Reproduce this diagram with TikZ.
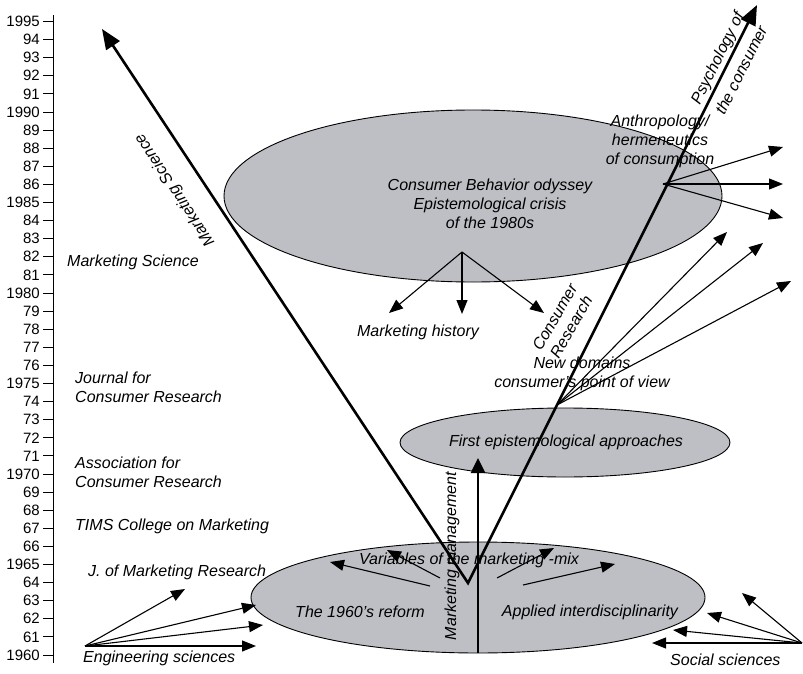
\documentclass[tikz,border=0pt]{standalone}
\usepackage{fontspec}
\setmainfont{Liberation Sans}
\usetikzlibrary{shapes.geometric, arrows.meta, positioning}
\definecolor{eragray}{RGB}{190,191,196}

\begin{document}
\begin{tikzpicture}[
    x=1pt, y=-1pt,
    font=\fontsize{16}{19}\selectfont\itshape,
    era/.style={
        ellipse, draw=black, line width=0.9pt,
        fill=eragray, inner sep=0pt
    },
    lbl/.style={align=left, anchor=west, inner sep=0pt},
    mid/.style={align=center, inner sep=0pt},
    yr/.style={font=\fontsize{15}{18}\selectfont, anchor=east, inner sep=0pt},
    flow/.style={line width=2.6pt, line join=miter},
    spread/.style={line width=1.1pt, -{Triangle[length=14pt,width=11pt]}}
]
\useasboundingbox (0,0) rectangle (803,674);

\draw[line width=1pt] (53,15) -- (53,663);
\foreach \i in {0,...,35} {
    \pgfmathtruncatemacro\yrfull{1960+\i}
    \pgfmathtruncatemacro\yrshort{mod(60+\i,100)}
    \pgfmathtruncatemacro\isfull{mod(\i,5)==0}
    \ifnum\isfull=1 \def\yrtxt{\yrfull}\else\def\yrtxt{\yrshort}\fi
    \node (y\yrfull) [yr] at (40, 655-18.1*\i) {\yrtxt};
    \draw[line width=0.9pt] (43, 655-18.1*\i) -- (53, 655-18.1*\i);
}

\node (odyssey) [era, minimum width=498pt, minimum height=172pt] at (473,196) {};
\node (firstep) [era, minimum width=330pt, minimum height=69pt] at (565,442.5) {};
\node (reform)  [era, minimum width=454pt, minimum height=111pt] at (478,597.5) {};

\node (odytxt)    [mid] at (490,204)
    {Consumer Behavior odyssey\\Epistemological crisis\\of the 1980s};
\node (firsttxt)  [mid] at (566,442) {First epistemological approaches};
\node (mixtxt)    [mid] at (469,560) {Variables of the marketing -mix};
\node (reformtxt) [mid] at (360,612) {The 1960’s reform};
\node (applied)   [mid] at (590,612) {Applied interdisciplinarity};

\node (mktsci) [lbl] at (67,262) {Marketing Science};
\node (jcr)    [lbl] at (75,387) {Journal for\\Consumer Research};
\node (acr)    [lbl] at (75,472) {Association for\\Consumer Research};
\node (tims)   [lbl] at (75,526) {TIMS College on Marketing};
\node (jmr)    [lbl] at (88,572) {J. of Marketing Research};
\node (eng)    [lbl] at (83,658) {Engineering sciences};
\node (soc)    [lbl] at (670,660) {Social sciences};

\node (anthro) [mid] at (660,141) {Anthropology/\\hermeneutics\\of consumption};
\node (mhist)  [mid] at (418,332) {Marketing history};
\node (newdom) [mid] at (582,374) {New domains\\consumer’s point of view};

\node (mscilbl) [mid, rotate=123.5] at (175,190) {Marketing Science};
\node (psylbl)  [mid, rotate=63.4] at (729,64) {Psychology of\\[8pt]the consumer};
\node (crlbl)   [mid, rotate=60] at (563,322) {Consumer\\Research};
\node (mmlbl)   [mid, rotate=90] at (452,556) {Marketing management};

\coordinate (vtip)    at (468,583);
\coordinate (msciend) at (102,29);
\coordinate (psyend)  at (757,5);
\coordinate (mmend)   at (478,458);

\coordinate (histsrc) at (462,252);
\coordinate (hist1) at (389,313);
\coordinate (hist2) at (462,314);
\coordinate (hist3) at (544,313);

\coordinate (anthsrc) at (663,184);
\coordinate (anth1) at (783,147);
\coordinate (anth2) at (783,184);
\coordinate (anth3) at (783,218);

\coordinate (newsrc) at (557,405);
\coordinate (new1) at (727,232);
\coordinate (new2) at (763,243);
\coordinate (new3) at (791,281);

\coordinate (mixl1a) at (430,586);
\coordinate (mixl1b) at (330,562);
\coordinate (mixl2a) at (440,578);
\coordinate (mixl2b) at (387,550);
\coordinate (mixr1a) at (497,578);
\coordinate (mixr1b) at (554,548);
\coordinate (mixr2a) at (523,585);
\coordinate (mixr2b) at (615,564);

\coordinate (engsrc) at (85,646);
\coordinate (eng1) at (185,589);
\coordinate (eng2) at (256,605);
\coordinate (eng3) at (263,625);
\coordinate (eng4) at (256,646);

\coordinate (socsrc) at (802,643);
\coordinate (soc1) at (742,593);
\coordinate (soc2) at (707,613);
\coordinate (soc3) at (673,630);
\coordinate (soc4) at (652,643);

\draw[flow, {Triangle[length=20pt,width=16pt]}-{Triangle[length=20pt,width=16pt]}]
    (msciend) -- (vtip) -- (psyend);
\draw[flow, -{Triangle[length=15pt,width=14pt]}] (reform.south) -- (mmend);

\foreach \t in {hist1,hist2,hist3} \draw[spread] (histsrc) -- (\t);
\foreach \t in {anth1,anth2,anth3} \draw[spread] (anthsrc) -- (\t);
\foreach \t in {new1,new2,new3} \draw[spread] (newsrc) -- (\t);
\foreach \t in {eng1,eng2,eng3,eng4} \draw[spread] (engsrc) -- (\t);
\foreach \t in {soc1,soc2,soc3,soc4} \draw[spread] (socsrc) -- (\t);
\draw[spread] (mixl1a) -- (mixl1b);
\draw[spread] (mixl2a) -- (mixl2b);
\draw[spread] (mixr1a) -- (mixr1b);
\draw[spread] (mixr2a) -- (mixr2b);

\end{tikzpicture}
\end{document}
